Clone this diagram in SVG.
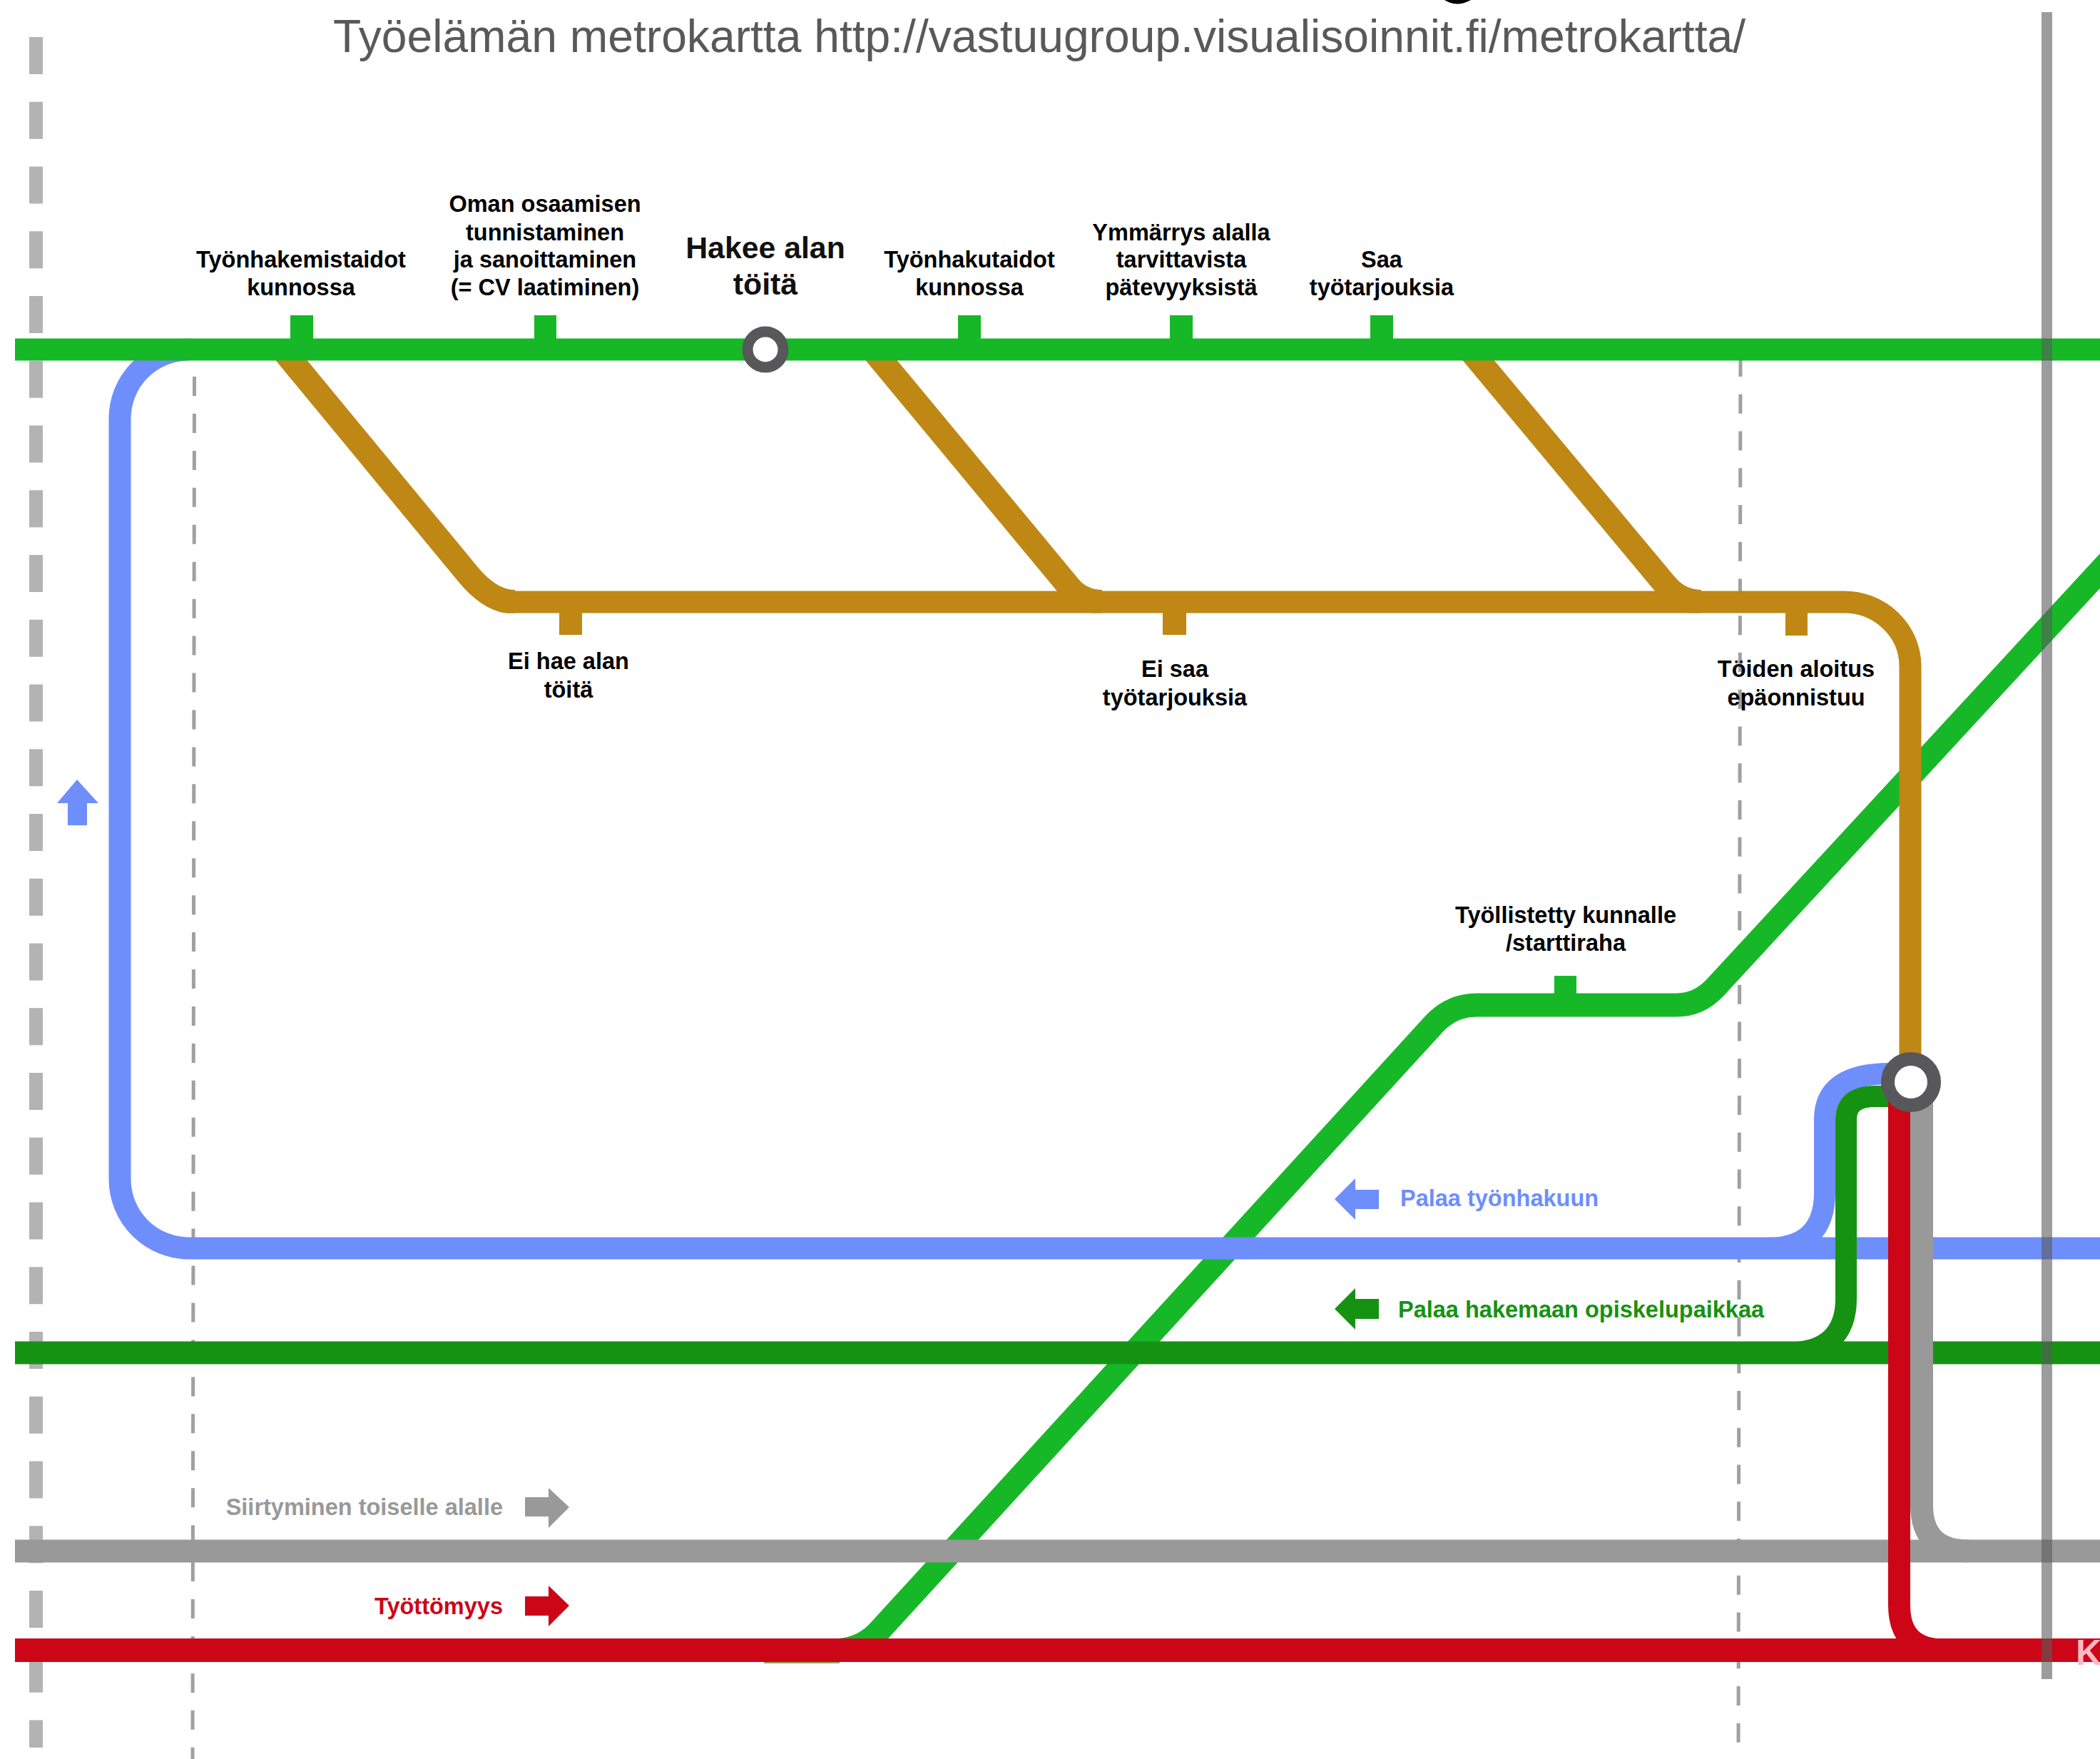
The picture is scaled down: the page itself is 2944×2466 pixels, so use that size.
<svg xmlns="http://www.w3.org/2000/svg" width="2944" height="2466" viewBox="0 0 2944 2466">
<defs><clipPath id="above-brown"><rect x="0" y="0" width="2944" height="859.500"/></clipPath></defs>
<style>
text{font-family:"Liberation Sans",Arial,sans-serif}
.lbl{font-size:32.500px;font-weight:700;fill:#000;text-anchor:middle}
.big{font-size:42.800px;font-weight:700;fill:#111;text-anchor:middle}
.leg{font-size:32.500px;font-weight:700}
.ln{fill:none;stroke-linejoin:round}
.g{stroke:#16b828}.br{stroke:#bf8714}.b{stroke:#6e8efb}.dg{stroke:#169212}.gr{stroke:#999}.r{stroke:#cc0617}
.st{stroke:#58585a;fill:#fff}
</style>
<rect width="2944" height="2466" fill="#fff"/>
<path d="M2025 0Q2042 11 2062 0Z" fill="#000"/>
<text x="1457" y="72.500" font-size="64.200" fill="#595959" text-anchor="middle">Työelämän metrokartta http://vastuugroup.visualisoinnit.fi/metrokartta/</text>
<g id="guides" fill="none">
<path d="M50.500 52V2450" stroke="#b3b3b3" stroke-width="19" stroke-dasharray="52 38.750"/>
<path d="M272.500 528L270 2466" stroke="#a0a0a0" stroke-width="5" stroke-dasharray="27 24.940"/>
<path d="M2440 501L2437 2466" stroke="#a0a0a0" stroke-width="5" stroke-dasharray="27 24.750"/>
</g>
<g id="connectors">
<path class="ln g" stroke-width="33" d="M1071 2314H1165Q1207 2314 1231 2288L2010 1436Q2035 1409 2070 1409H2350Q2382 1409 2405 1384L2960 783"/>
<rect x="1071" y="2328" width="106" height="4" fill="#8fa85a"/>
<path class="ln b" stroke-width="31" d="M265 490A97 97 0 0 0 168 587V1653A97 97 0 0 0 265 1750"/>
<path class="ln b" stroke-width="31" d="M265 1750H2944"/>
<path class="ln b" stroke-width="30" d="M2476 1750C2530 1750 2558 1725 2558 1672V1570C2558 1525 2590 1505 2650 1505H2679"/>
<path class="ln dg" stroke-width="32" d="M21 1896.500H2944"/>
<path class="ln dg" stroke-width="30" d="M2507 1896.500C2560 1896.500 2588 1870 2588 1821V1570C2588 1545 2605 1537 2630 1537H2679"/>
<path class="ln br" stroke-width="31" d="M710 844H2585A93 90 0 0 1 2678 934V1517"/>
<g clip-path="url(#above-brown)">
<path class="ln br" stroke-width="34" d="M396 490L656 805Q688 844 722 844"/>
<path class="ln br" stroke-width="34" d="M1223 490L1500 824Q1518 844 1545 844"/>
<path class="ln br" stroke-width="34" d="M2060 490L2335 820Q2355 844 2385 844"/>
</g>
<path class="ln g" stroke-width="31" d="M21 490H2944"/>
<path class="ln gr" stroke-width="32" d="M21 2174.500H2944"/>
<path class="ln gr" stroke-width="32" d="M2694 1517V2110Q2694 2174.500 2760 2174.500"/>
<path class="ln r" stroke-width="33" d="M21 2313.500H2944"/>
<path class="ln r" stroke-width="31" d="M2662.500 1530V2250Q2662.500 2313 2725 2313"/>
</g>
<g id="stops">
<rect x="407" y="442" width="32" height="33" fill="#16b828"/>
<rect x="749" y="442" width="31" height="33" fill="#16b828"/>
<rect x="1343" y="442" width="32" height="33" fill="#16b828"/>
<rect x="1640" y="442" width="32" height="33" fill="#16b828"/>
<rect x="1921" y="442" width="32" height="33" fill="#16b828"/>
<rect x="2179" y="1368" width="31" height="28" fill="#16b828"/>
<rect x="784" y="858" width="32" height="32" fill="#bf8714"/>
<rect x="1630" y="858" width="33" height="32" fill="#bf8714"/>
<rect x="2503" y="858" width="31" height="33" fill="#bf8714"/>
</g>
<g id="node-hakee"><circle class="st" cx="1073" cy="490" r="25" stroke-width="15"/></g>
<g id="node-hub"><circle class="st" cx="2679" cy="1517" r="32.500" stroke-width="19"/></g>
<rect id="border-line" x="2862" y="17" width="15" height="2337" fill="#5a5a5a" opacity=".6"/>
<g id="arrows">
<path fill="#6e8efb" d="M1871 1681L1900 1652V1668H1933V1695H1900V1710Z"/>
<path fill="#169212" d="M1871 1835L1900 1806V1821H1933V1849H1900V1864Z"/>
<path fill="#999" d="M798 2113L769 2086V2099H736V2126H769V2142Z"/>
<path fill="#cc0617" d="M798 2251L769 2223V2238H736V2265H769V2280Z"/>
<path fill="#6e8efb" d="M108 1093L138 1126H122V1157H95V1126H80Z"/>
</g>
<g id="labels">
<g transform="translate(0 1.500)">
<text class="lbl" x="422" y="373">Työnhakemistaidot</text><text class="lbl" x="422" y="412">kunnossa</text>
<text class="lbl" x="764" y="295">Oman osaamisen</text><text class="lbl" x="764" y="335">tunnistaminen</text><text class="lbl" x="764" y="373">ja sanoittaminen</text><text class="lbl" x="764" y="412">(= CV laatiminen)</text>
<text class="big" x="1073" y="360">Hakee alan</text><text class="big" x="1073" y="411">töitä</text>
<text class="lbl" x="1359" y="373">Työnhakutaidot</text><text class="lbl" x="1359" y="412">kunnossa</text>
<text class="lbl" x="1656" y="335">Ymmärrys alalla</text><text class="lbl" x="1656" y="373">tarvittavista</text><text class="lbl" x="1656" y="412">pätevyyksistä</text>
<text class="lbl" x="1937" y="373">Saa</text><text class="lbl" x="1937" y="412">työtarjouksia</text>
<text class="lbl" x="797" y="936">Ei hae alan</text><text class="lbl" x="797" y="976">töitä</text>
<text class="lbl" x="1647" y="947">Ei saa</text><text class="lbl" x="1647" y="987">työtarjouksia</text>
<text class="lbl" x="2518" y="947">Töiden aloitus</text><text class="lbl" x="2518" y="987">epäonnistuu</text>
<text class="lbl" x="2195" y="1292">Työllistetty kunnalle</text><text class="lbl" x="2195" y="1331">/starttiraha</text>
</g>
<text class="leg" x="1963" y="1691" fill="#6e8efb">Palaa työnhakuun</text>
<text class="leg" x="1960" y="1846.500" fill="#169212">Palaa hakemaan opiskelupaikkaa</text>
<text class="leg" x="705" y="2124" fill="#999" text-anchor="end">Siirtyminen toiselle alalle</text>
<text class="leg" x="705" y="2263" fill="#cc0617" text-anchor="end">Työttömyys</text>
<text x="2910" y="2334" font-size="50" font-weight="700" fill="#ffb8c4">K</text>
</g>
</svg>
